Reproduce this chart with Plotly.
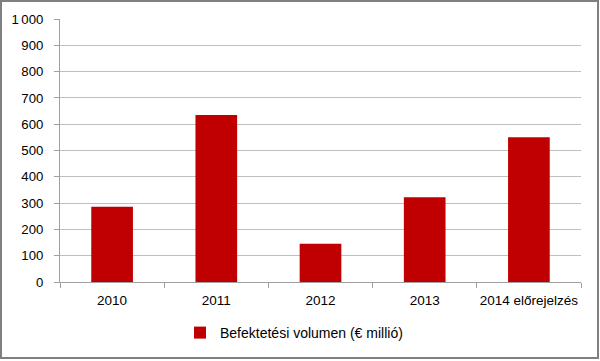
import plotly.graph_objects as go

categories = ["2010", "2011", "2012", "2013", "2014 előrejelzés"]
values = [286, 635, 145, 322, 550]
series_name = "Befektetési volumen (€ millió)"

fig = go.Figure()
fig.add_trace(go.Bar(
    x=categories, y=values, name=series_name,
    marker=dict(color="#C00000", line=dict(width=0)),
    showlegend=True,
))

PL, PR, PT, PB = 60, 581, 19, 282
pw, ph = PR - PL, PB - PT

fig.update_layout(
    width=600, height=361,
    margin=dict(l=PL, r=600 - PR, t=PT, b=361 - PB, autoexpand=False),
    paper_bgcolor="white", plot_bgcolor="white",
    font=dict(family="Liberation Sans, Arial, sans-serif", size=14, color="#000000"),
    separators=",\u2009",
    bargap=0.6,
    showlegend=True,
    legend=dict(orientation="h", x=(180 - PL) / pw, xanchor="left",
                y=-(317 - PB) / ph, yanchor="top",
                bgcolor="rgba(0,0,0,0)",
                font=dict(size=14), itemwidth=30),
    shapes=[dict(type="rect", xref="paper", yref="paper",
                 x0=(1 - PL) / pw, x1=(598 - PL) / pw,
                 y0=-(358 - PB) / ph, y1=(PB - 1) / ph,
                 line=dict(color="#808080", width=2), layer="below")],
)
fig.update_yaxes(range=[0, 1000], dtick=100, tickformat=",d",
                 automargin=False, tickfont=dict(size=13.2),
                 showgrid=True, gridcolor="#bfbfbf", gridwidth=1,
                 showline=True, linecolor="#a0a0a0", linewidth=1,
                 ticks="outside", ticklen=5, tickcolor="#a0a0a0",
                 ticklabelstandoff=8,
                 zeroline=False)
fig.update_xaxes(showline=True, linecolor="#a0a0a0", linewidth=1,
                 automargin=False, tickangle=0, tickfont=dict(size=13.5),
                 ticks="outside", ticklen=5, tickcolor="#a0a0a0",
                 ticklabelstandoff=6,
                 tickson="boundaries", showgrid=False, mirror=False)

fig.write_html("out.html",
               config={"displayModeBar": False},
               post_script="document.body.style.margin='0';document.body.style.padding='0';")
